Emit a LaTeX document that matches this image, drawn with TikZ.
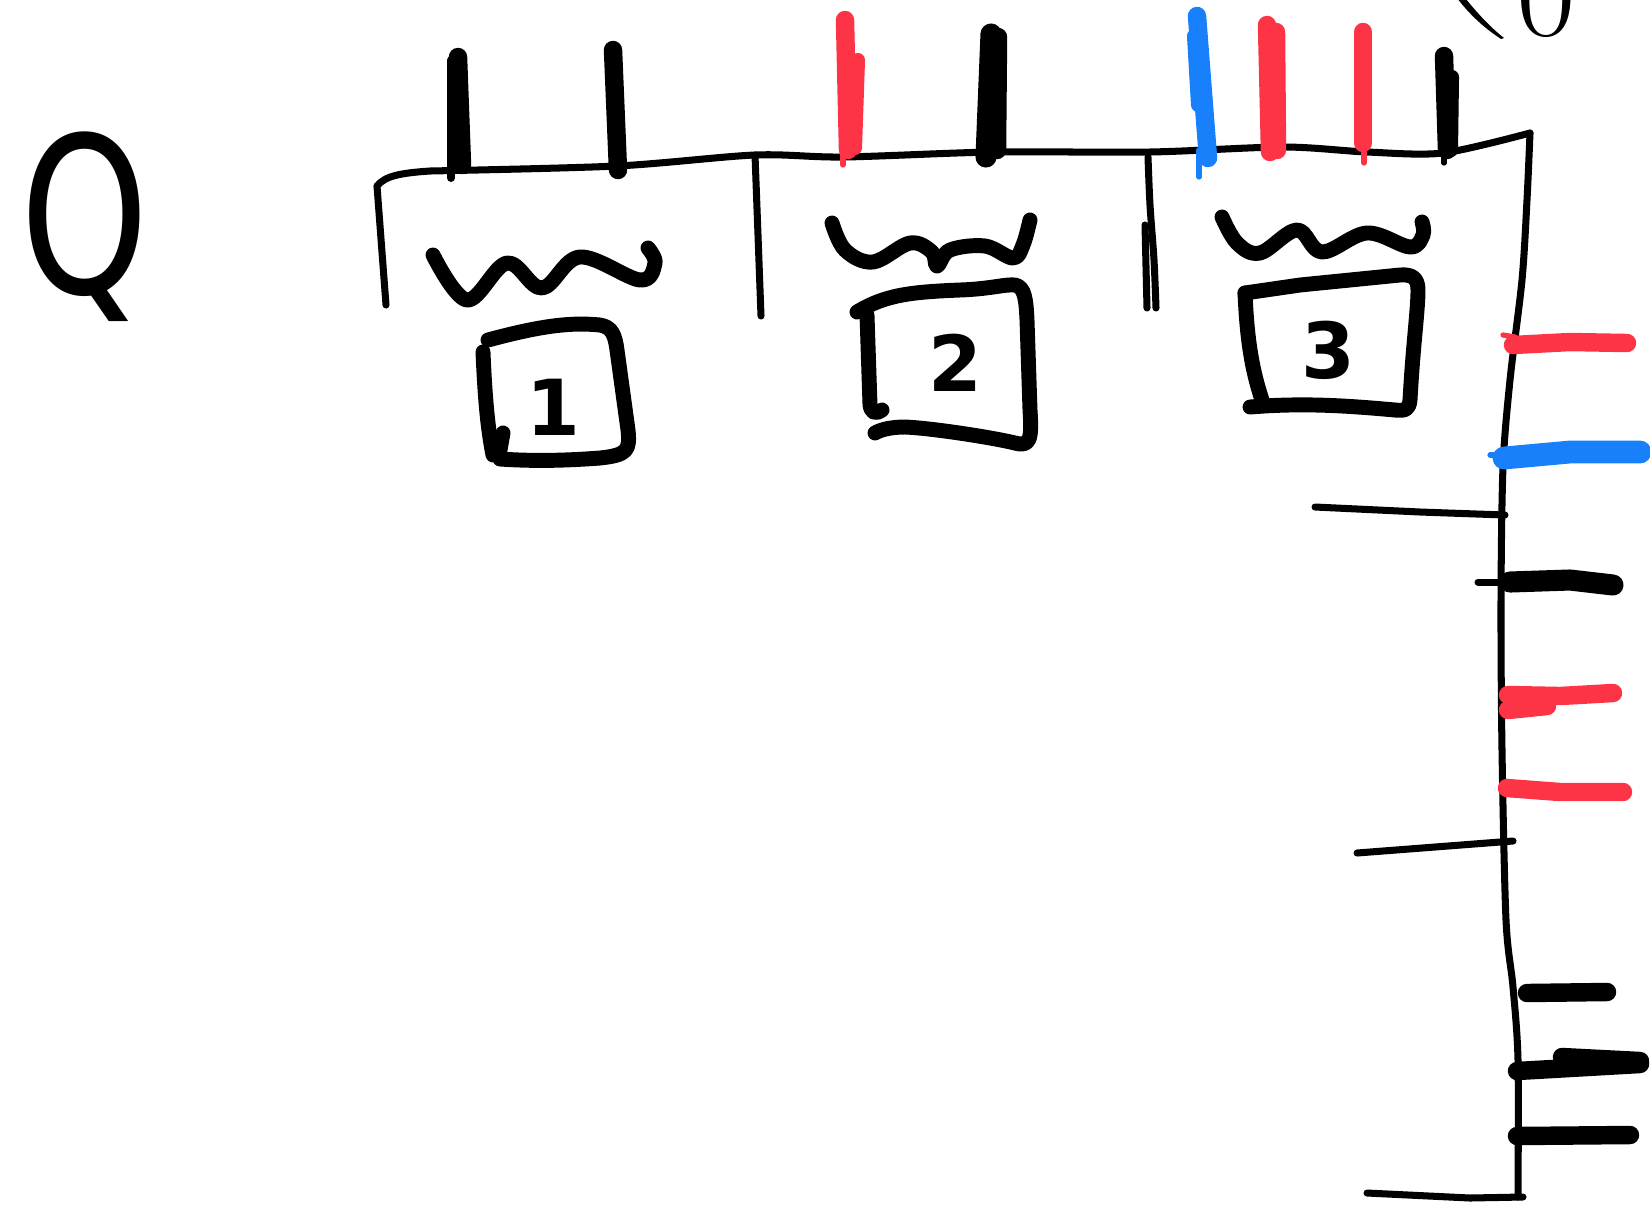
\documentclass[tikz,border=0pt]{standalone}
\usepackage{fontspec}
\usepackage{graphicx}
\newfontfamily\sketchfont{DejaVu Sans}
\usetikzlibrary{positioning}
\definecolor{inkred}{RGB}{252,52,70}
\definecolor{inkblue}{RGB}{24,128,250}
\tikzset{
  hair/.style={line width=4pt, line cap=round, line join=round},
  pen/.style={line width=8.5pt, line cap=round, line join=round},
  marker/.style={line width=10.5pt, line cap=round, line join=round},
  sliver/.style={line width=3pt, line cap=round},
  digit/.style={font=\sketchfont\bfseries\fontsize{44}{44}\selectfont, inner sep=0pt}
}

\begin{document}
\begin{tikzpicture}[x=0.02cm, y=-0.02cm]
  \useasboundingbox (0,0) rectangle (1650,1205);

  % frame: top edge and right edge
  \draw[hair] (377,186) .. controls (385,176) and (400,173) .. (430,171)
    plot[smooth, tension=0.5] coordinates {(430,171) (617,166) (755,155)
    (843,157) (993,152) (1150,152) (1283,147) (1367,152) (1443,153) (1530,133)};
  \draw[hair] plot[smooth, tension=0.5] coordinates {(1530,133) (1527,200) (1522,280) (1510,380)
    (1503,467) (1501,600) (1502,750) (1506,920) (1513,987) (1518,1060) (1518,1197)};
  \draw[hair] (1367,1193) -- (1470,1198) -- (1523,1197);

  % dividers below the top edge
  \draw[hair] (377,186) -- (386,305);
  \draw[hair] (755,155) -- (758,235) -- (761,316);
  \draw[hair] plot[smooth] coordinates {(1148,157) (1150,205) (1154,260) (1156,308)};
  \draw[hair] (1145,225) -- (1147,308);

  % ticks on the top edge
  \draw[marker] (458,57) -- (462,165);
  \draw[line width=4.5pt, line cap=round] (451,60) -- (451,178);
  \draw[marker] (613,50) -- (618,170);
  \draw[marker, inkred] (845,20) -- (848,150);
  \draw[marker, inkred, line width=8pt] (858,60) -- (855,148);
  \draw[sliver, inkred] (843,150) -- (843,165);
  \draw[marker, line width=12pt] (991,34) -- (986,157);
  \draw[marker] (998,37) -- (997,150);
  \draw[marker, inkblue] (1197,16) -- (1208,158);
  \draw[marker, inkblue, line width=8pt] (1194,36) -- (1198,105);
  \draw[sliver, inkblue] (1199,150) -- (1199,177);
  \draw[marker, inkred] (1267,25) -- (1270,152);
  \draw[marker, inkred] (1276,32) -- (1277,150);
  \draw[marker, inkred] (1363,32) -- (1363,143);
  \draw[sliver, inkred] (1364,143) -- (1364,163);
  \draw[marker] (1444,56) -- (1447,150);
  \draw[marker, line width=8pt] (1452,77) -- (1451,150);
  \draw[sliver] (1444,150) -- (1444,163);

  % ticks on the right edge
  \draw[sliver, inkred] (1503,335) -- (1515,337);
  \draw[marker, inkred] (1513,345) -- (1570,342) -- (1627,343);
  \draw[sliver, inkblue] (1490,455) -- (1505,455);
  \draw[marker, inkblue, line width=13pt] (1504,458) -- (1570,452) -- (1640,452);
  \draw[hair] (1315,507) -- (1420,512) -- (1505,515);
  \draw[hair] (1478,582) -- (1507,582);
  \draw[marker, line width=12pt] (1510,582) -- (1570,580) -- (1613,585);
  \draw[marker, inkred] (1508,695) -- (1560,696) -- (1613,693);
  \draw[marker, inkred] (1508,710) -- (1547,706);
  \draw[marker, inkred] (1507,788) -- (1560,792) -- (1623,792);
  \draw[hair] (1357,853) -- (1513,841);
  \draw[marker] (1527,993) -- (1607,992);
  \draw[marker] (1517,1071) -- (1640,1064);
  \draw[marker] (1562,1057) -- (1640,1061);
  \draw[marker] (1517,1136) -- (1630,1135);

  % corner mark at the top right
  \fill (1462,-6) .. controls (1476,12) and (1490,27) .. (1504,38)
    -- (1501,39) .. controls (1486,29) and (1470,16) .. (1454,-6) -- cycle;
  \node[anchor=base, inner sep=0pt, font=\fontsize{74}{74}\selectfont] (zero) at (1546,35) {0};

  \node[anchor=base west, inner sep=0pt, font=\sketchfont\fontsize{124}{124}\selectfont]
    (qmark) at (20,293) {\scalebox{0.75}[1]{Q}};

  % waves
  \draw[pen] plot[smooth, tension=0.6] coordinates {(433,255) (467,300) (507,263) (542,288)
    (580,257) (640,280) (655,263) (648,248)};
  \draw[pen] plot[smooth, tension=0.6] coordinates {(832,223) (845,250) (873,262) (910,243)
    (932,252) (937,266) (950,250) (985,246) (1013,258) (1023,245) (1030,220)};
  \draw[pen] plot[smooth, tension=0.6] coordinates {(1222,217) (1237,243) (1260,253) (1297,230)
    (1322,252) (1367,233) (1410,247) (1423,235) (1422,222)};

  % boxes
  \draw[pen] (488,340) .. controls (540,326) and (570,322) .. (600,325)
    .. controls (612,327) and (615,335) .. (617,350) -- (628,430)
    .. controls (630,450) and (628,455) .. (600,458) .. controls (560,461) and (530,461) .. (500,459);
  \draw[pen] (483,352) .. controls (485,400) and (488,430) .. (493,455);
  \draw[pen] (503,433) -- (500,450);
  \node[digit] (one) at (553,407) {1};

  \draw[pen] (857,312) .. controls (885,295) and (910,292) .. (960,290)
    .. controls (990,289) and (1005,284) .. (1015,285) .. controls (1025,287) and (1026,300) .. (1027,320)
    -- (1030,410) .. controls (1032,440) and (1030,447) .. (1015,443)
    .. controls (990,437) and (930,428) .. (905,427) .. controls (890,427) and (880,430) .. (875,433);
  \draw[pen] (867,315) -- (870,405) .. controls (871,412) and (875,415) .. (882,410);
  \node[digit] (two) at (955,363) {2};

  \draw[pen] (1245,293) -- (1300,285) -- (1400,275) .. controls (1412,274) and (1418,278) .. (1418,290)
    .. controls (1418,310) and (1413,345) .. (1410,400) .. controls (1409,410) and (1405,411) .. (1395,410)
    .. controls (1340,405) and (1300,403) .. (1250,407);
  \draw[pen] (1245,293) .. controls (1247,340) and (1252,370) .. (1262,400);
  \node[digit] (three) at (1328,350) {3};
\end{tikzpicture}
\end{document}
